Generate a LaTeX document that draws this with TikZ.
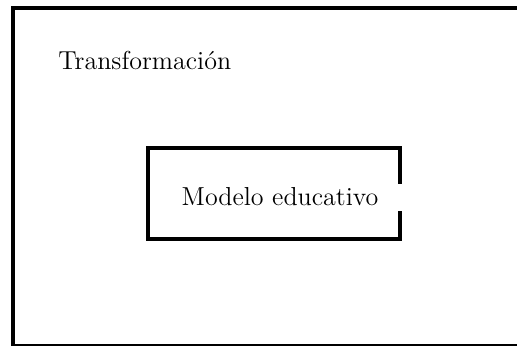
\documentclass[tikz,border=0pt]{standalone}
\usepackage{tikz}

\tikzset{
  frame/.style={line width=2pt, line cap=rect},
  lbl/.style={inner sep=0pt, font=\fontsize{13}{15}\selectfont}
}

\begin{document}
\begin{tikzpicture}[x=0.5pt, y=-0.5pt]
    \useasboundingbox (0, 0) rectangle (517, 345);
    \clip (0, 0) rectangle (517, 345);
    % outer frame, cut off at the right and bottom
    \draw[frame] (12.5, 8) rectangle (530, 345.5);
    \node[lbl, anchor=base west] (trans) at (58, 69) {Transformación};
    % inner box, open on the right side
    \coordinate (gt) at (400, 182);
    \coordinate (gb) at (400, 213);
    \draw[frame] (gt) -- (400, 148) -- (148, 148) -- (148, 239)
      -- (400, 239) -- (gb);
    \node[lbl] (mod) at (280, 197) {Modelo educativo};
  \end{tikzpicture}
\end{document}
